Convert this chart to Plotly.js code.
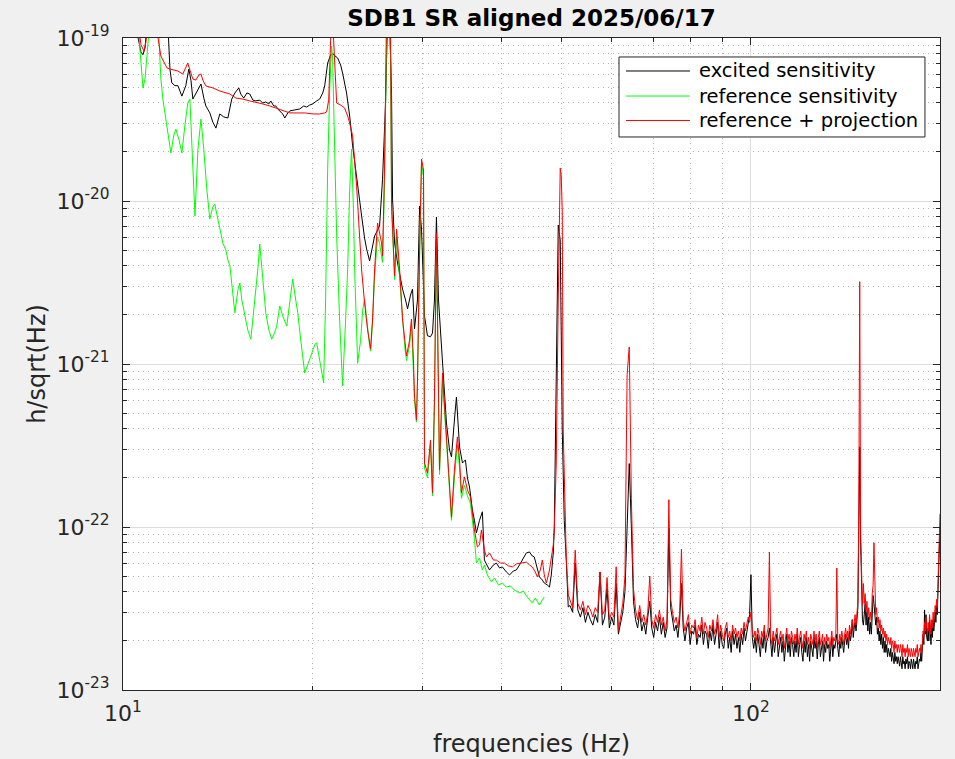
<!DOCTYPE html>
<html><head><meta charset="utf-8">
<script src="https://cdn.plot.ly/plotly-3.0.1.min.js"></script>
<style>html,body{margin:0;padding:0;background:#f0f0f0;}#chart{width:955px;height:759px;}</style>
</head><body><div id="chart"></div>
<script>
// ---------- tick labels ----------
const xTickValues = [10, 100];
const xTickLabels = ['10<sup>1</sup>', '10<sup>2</sup>'];
const yTickValues = [1e-23, 1e-22, 1e-21, 1e-20, 1e-19];
const yTickLabels = ['10<sup>-23</sup>', '10<sup>-22</sup>', '10<sup>-21</sup>', '10<sup>-20</sup>', '10<sup>-19</sup>'];

// ---------- series names ----------
const seriesNames = ['excited sensitivity', 'reference sensitivity', 'reference + projection'];
const seriesColors = ['#000000', '#00ff00', '#ff0000'];

// ---------- shared high-frequency grid (Hz) ----------
const freqHigh = [
51.5,52.0,52.5,53.0,53.5,54.0,54.5,55.0,55.5,56.0,
56.5,57.0,57.5,58.0,58.5,59.0,59.5,60.0,60.5,61.0,
61.5,62.0,62.5,63.0,63.5,64.0,64.5,65.0,65.5,66.0,
66.5,67.0,67.5,68.0,68.5,69.0,69.5,70.0,70.5,71.0,
71.5,72.0,72.5,73.0,73.5,74.0,74.5,75.0,75.5,76.0,
76.5,77.0,77.5,78.0,78.5,79.0,79.5,80.0,80.5,81.0,
81.5,82.0,82.5,83.0,83.5,84.0,84.5,85.0,85.5,86.0,
86.5,87.0,87.5,88.0,88.5,89.0,89.5,90.0,90.5,91.0,
91.5,92.0,92.5,93.0,93.5,94.0,94.5,95.0,95.5,96.0,
96.5,97.0,97.5,98.0,98.5,99.0,99.5,100.0,100.5,101.0,
101.5,102.0,102.5,103.0,103.5,104.0,104.5,105.0,105.5,106.0,
106.5,107.0,107.5,108.0,108.5,109.0,109.5,110.0,110.5,111.0,
111.5,112.0,112.5,113.0,113.5,114.0,114.5,115.0,115.5,116.0,
116.5,117.0,117.5,118.0,118.5,119.0,119.5,120.0,120.5,121.0,
121.5,122.0,122.5,123.0,123.5,124.0,124.5,125.0,125.5,126.0,
126.5,127.0,127.5,128.0,128.5,129.0,129.5,130.0,130.5,131.0,
131.5,132.0,132.5,133.0,133.5,134.0,134.5,135.0,135.5,136.0,
136.5,137.0,137.5,138.0,138.5,139.0,139.5,140.0,140.5,141.0,
141.5,142.0,142.5,143.0,143.5,144.0,144.5,145.0,145.5,146.0,
146.5,147.0,147.5,148.0,148.5,149.0,149.5,150.0,150.5,151.0,
151.5,152.0,152.5,153.0,153.5,154.0,154.5,155.0,155.5,156.0,
156.5,157.0,157.5,158.0,158.5,159.0,159.5,160.0,160.5,161.0,
161.5,162.0,162.5,163.0,163.5,164.0,164.5,165.0,165.5,166.0,
166.5,167.0,167.5,168.0,168.5,169.0,169.5,170.0,170.5,171.0,
171.5,172.0,172.5,173.0,173.5,174.0,174.5,175.0,175.5,176.0,
176.5,177.0,177.5,178.0,178.5,179.0,179.5,180.0,180.5,181.0,
181.5,182.0,182.5,183.0,183.5,184.0,184.5,185.0,185.5,186.0,
186.5,187.0,187.5,188.0,188.5,189.0,189.5,190.0,190.5,191.0,
191.5,192.0,192.5,193.0,193.5,194.0,194.5,195.0,195.5,196.0,
196.5,197.0,197.5,198.0,198.5,199.0,199.5,200.0];

// ---------- excited sensitivity (black) ----------
const freqExcitedLow = [
10.0,10.3,10.57,10.68,10.76,10.84,10.92,11.04,11.45,11.79,
11.88,11.96,12.10,12.23,12.41,12.59,12.73,12.83,12.92,13.06,
13.16,13.31,13.45,13.55,13.75,13.90,14.06,14.16,14.26,14.47,
14.69,14.80,14.90,15.07,15.29,15.40,15.57,15.75,15.92,16.10,
16.27,16.51,16.69,16.88,17.07,17.19,17.38,17.51,17.70,17.96,
18.10,18.30,18.43,18.77,19.12,19.40,19.61,19.83,20.05,20.34,
20.57,20.80,20.95,21.18,21.41,21.57,21.81,21.97,22.21,22.37,
22.70,22.96,23.21,23.55,23.99,24.25,24.43,24.70,24.97,25.16,
25.62,25.90,26.19,26.38,26.58,26.77,26.87,27.07,27.37,27.67,
27.87,28.18,28.39,28.70,28.91,29.12,29.44,29.67,29.88,30.21,
30.54,30.88,31.11,31.33,31.56,31.80,32.15,32.38,32.74,33.11,
33.35,33.71,33.96,34.35,34.72,35.10,35.36,35.63,35.88,36.01,
36.28,36.54,36.96,37.35,37.63,38.04,38.34,38.89,39.32,39.77,
40.19,40.78,41.26,41.84,42.30,42.80,43.24,43.88,44.39,44.85,
45.18,45.68,46.05,46.53,46.87,47.39,47.77,48.09,48.44,48.62,
48.97,49.15,49.33,49.69,50.06,50.43,50.80,51.17];
const excitedLow = [
1.3e-19,1.3e-19,1.0e-19,8.2e-20,7.9e-20,8.7e-20,1.2e-19,1.3e-19,1.3e-19,1.2e-19,
6.4e-20,5.3e-20,5.1e-20,5.1e-20,4.4e-20,5.1e-20,6.45e-20,5.5e-20,4.22e-20,4.53e-20,
4.8e-20,5.22e-20,4.28e-20,3.83e-20,3.47e-20,3.05e-20,2.8e-20,3.14e-20,3.42e-20,3.28e-20,
3.23e-20,3.72e-20,4.22e-20,4.6e-20,4.94e-20,4.53e-20,4.28e-20,4.6e-20,4.53e-20,4.16e-20,
4.11e-20,4.16e-20,3.99e-20,4.05e-20,3.94e-20,4.11e-20,3.83e-20,3.83e-20,3.62e-20,3.42e-20,
3.23e-20,3.47e-20,3.57e-20,3.62e-20,3.67e-20,3.83e-20,3.77e-20,3.88e-20,3.94e-20,4.11e-20,
4.22e-20,4.6e-20,5.08e-20,7.02e-20,7.87e-20,7.98e-20,7.75e-20,7.54e-20,6.83e-20,6.1e-20,
4.6e-20,3.32e-20,2.18e-20,1.36e-20,8.09e-21,5.93e-21,5.08e-21,4.29e-21,5.15e-21,6.1e-21,
7.02e-21,1.36e-20,3.99e-20,1.3e-19,1.3e-19,4.6e-20,1.03e-20,5.52e-21,4.16e-21,3.37e-21,
2.88e-21,2.47e-21,2.18e-21,2.65e-21,2.88e-21,1.64e-21,2.47e-21,9.32e-21,6.73e-21,1.97e-21,
1.49e-21,1.47e-21,1.55e-21,2.47e-21,7.98e-21,2.47e-21,1.22e-21,7.98e-22,4.35e-22,2.97e-22,
2.69e-22,4.53e-22,6.27e-22,3.1e-22,2.47e-22,2.58e-22,2.0e-22,1.76e-22,1.36e-22,1.27e-22,
1.1e-22,9.19e-23,1.1e-22,1.24e-22,6.27e-23,5.77e-23,5.45e-23,5.85e-23,6.01e-23,5.61e-23,
5.69e-23,5.3e-23,5.08e-23,5.37e-23,5.45e-23,5.85e-23,6.27e-23,6.93e-23,7.03e-23,6.64e-23,
6.55e-23,5.61e-23,4.94e-23,4.73e-23,4.53e-23,4.41e-23,4.28e-23,5.08e-23,6.93e-23,1.0e-22,
5.77e-22,2.47e-21,7.12e-21,5.77e-21,3.94e-22,1.1e-22,6.27e-23,3.23e-23];
const excitedHigh = [
3.3e-23,3.0e-23,6.0e-23,3.1e-23,2.8e-23,3.2e-23,2.6e-23,3.0e-23,2.7e-23,2.5e-23,
2.9e-23,2.6e-23,5.3e-23,2.5e-23,2.8e-23,4.2e-23,2.4e-23,2.8e-23,2.5e-23,4.5e-23,
2.2e-23,2.6e-23,3.0e-23,4.0e-23,1.0e-22,2.45e-22,1.0e-22,3.5e-23,2.7e-23,2.4e-23,
3.0e-23,2.3e-23,2.6e-23,2.2e-23,2.8e-23,3.5e-23,2.4e-23,2.1e-23,2.6e-23,2.3e-23,
2.8e-23,2.2e-23,2.6e-23,2.1e-23,2.4e-23,9.8e-23,3.2e-23,2.7e-23,2.3e-23,2.5e-23,
2.1e-23,2.7e-23,4.5e-23,2.4e-23,2.0e-23,2.4e-23,2.6e-23,1.9e-23,2.3e-23,2.2e-23,
2.5e-23,1.9e-23,2.2e-23,2.1e-23,2.5e-23,1.9e-23,2.3e-23,2.2e-23,1.8e-23,2.3e-23,
2.0e-23,2.5e-23,1.9e-23,2.2e-23,2.6e-23,1.8e-23,2.3e-23,1.9e-23,1.8e-23,2.2e-23,
2.4e-23,1.8e-23,2.1e-23,1.7e-23,2.3e-23,1.9e-23,2.2e-23,1.8e-23,2.1e-23,1.7e-23,
2.2e-23,1.9e-23,2.4e-23,2.0e-23,2.3e-23,2.6e-23,2.9e-23,5.1e-23,2.1e-23,1.8e-23,
2.1e-23,1.7e-23,2.2e-23,1.9e-23,1.6e-23,2.1e-23,1.8e-23,2.3e-23,1.7e-23,2.0e-23,
2.1e-23,2.4e-23,1.8e-23,1.6e-23,2.1e-23,1.7e-23,2.0e-23,2.2e-23,1.6e-23,1.9e-23,
2.1e-23,1.7e-23,2.0e-23,1.5e-23,1.9e-23,2.2e-23,1.7e-23,2.0e-23,1.6e-23,2.1e-23,
1.9e-23,1.6e-23,2.0e-23,1.7e-23,2.2e-23,1.6e-23,1.9e-23,2.1e-23,1.7e-23,1.5e-23,
2.0e-23,1.7e-23,2.1e-23,1.6e-23,1.9e-23,1.5e-23,2.0e-23,1.8e-23,1.6e-23,2.1e-23,
1.8e-23,2.0e-23,1.55e-23,1.9e-23,2.1e-23,1.6e-23,1.8e-23,2.0e-23,1.5e-23,1.9e-23,
1.7e-23,2.0e-23,1.8e-23,1.9e-23,1.5e-23,1.8e-23,2.1e-23,1.6e-23,1.9e-23,1.8e-23,
2.0e-23,2.2e-23,1.8e-23,1.6e-23,2.0e-23,1.8e-23,2.1e-23,1.9e-23,1.7e-23,2.0e-23,
2.2e-23,1.9e-23,2.1e-23,1.8e-23,2.3e-23,2.0e-23,2.2e-23,2.7e-23,2.1e-23,2.4e-23,
2.6e-23,2.3e-23,2.9e-23,3.2e-23,1.0e-22,3.1e-22,8.0e-23,3.2e-23,2.7e-23,2.5e-23,
2.9e-23,3.4e-23,2.5e-23,3.0e-23,2.3e-23,2.8e-23,2.2e-23,2.6e-23,2.2e-23,3.5e-23,
3.8e-23,3.4e-23,3.0e-23,2.5e-23,2.8e-23,2.2e-23,2.4e-23,2.0e-23,2.3e-23,1.9e-23,
2.2e-23,1.8e-23,2.1e-23,1.7e-23,2.0e-23,1.7e-23,1.9e-23,1.6e-23,1.8e-23,1.7e-23,
1.6e-23,1.8e-23,1.5e-23,1.7e-23,1.6e-23,1.45e-23,1.7e-23,1.5e-23,1.6e-23,1.45e-23,
1.6e-23,1.5e-23,1.4e-23,1.6e-23,1.5e-23,1.35e-23,1.6e-23,1.45e-23,1.5e-23,1.35e-23,
1.55e-23,1.45e-23,1.6e-23,1.35e-23,1.5e-23,1.45e-23,1.35e-23,1.55e-23,1.45e-23,1.35e-23,
1.55e-23,1.45e-23,1.35e-23,1.5e-23,1.45e-23,1.6e-23,1.35e-23,1.45e-23,1.55e-23,1.5e-23,
1.7e-23,1.5e-23,1.8e-23,2.2e-23,1.9e-23,3.1e-23,2.2e-23,2.9e-23,2.1e-23,2.0e-23,
2.4e-23,2.0e-23,2.7e-23,2.2e-23,1.9e-23,2.5e-23,2.1e-23,2.7e-23,2.3e-23,2.6e-23,
3.0e-23,2.6e-23,3.3e-23,2.9e-23,4.0e-23,6.0e-23,8.5e-23,1.0e-22];

// ---------- reference sensitivity (green) ----------
const freqReference = [
10.0,10.57,10.64,10.76,10.84,10.96,11.04,11.37,11.41,11.49,
11.58,11.70,11.83,11.92,12.05,12.14,12.28,12.41,12.55,12.68,
12.78,12.87,13.02,13.16,13.31,13.45,13.60,13.75,13.90,14.00,
14.16,14.26,14.42,14.58,14.69,14.80,14.90,15.07,15.24,15.35,
15.46,15.63,15.80,15.98,16.16,16.27,16.39,16.51,16.63,16.76,
16.88,17.07,17.25,17.45,17.57,17.77,17.96,18.23,18.43,18.63,
18.84,18.98,19.19,19.47,19.68,19.97,20.20,20.34,20.57,20.87,
21.02,21.18,21.34,21.49,21.57,21.73,21.89,22.13,22.37,22.62,
22.79,22.96,23.12,23.28,23.38,23.55,23.64,23.90,24.08,24.25,
24.52,24.70,24.79,24.97,25.16,25.43,25.62,25.90,26.09,26.28,
26.48,26.67,26.77,26.97,27.07,27.27,27.57,27.87,28.08,28.28,
28.60,28.80,29.01,29.12,29.33,29.44,29.67,29.88,30.10,30.21,
30.54,30.88,31.11,31.33,31.56,31.68,31.92,32.27,32.74,33.11,
33.35,33.71,34.08,34.35,34.59,34.97,35.36,35.75,36.28,36.54,
36.96,37.35,37.63,38.04,38.62,39.03,39.62,40.19,40.78,41.41,
41.99,42.80,43.39,44.04,44.85,45.35,46.05,46.53,46.87];
const referenceSensitivity = [
1.3e-19,1.3e-19,8.56e-20,4.94e-20,5.6e-20,9.32e-20,1.3e-19,1.3e-19,1.0e-19,5.6e-20,
4.16e-20,3.18e-20,2.37e-20,1.97e-20,2.54e-20,2.76e-20,2.37e-20,1.97e-20,2.93e-20,3.99e-20,
4.22e-20,2.37e-20,8.1e-21,2.06e-20,3.18e-20,2.06e-20,1.17e-20,7.75e-21,9.19e-21,9.58e-21,
7.65e-21,6.9e-21,5.52e-21,5.01e-21,4.35e-21,3.99e-21,3.05e-21,2.06e-21,2.84e-21,3.14e-21,
2.47e-21,1.97e-21,1.62e-21,1.42e-21,2.14e-21,2.61e-21,3.77e-21,5.45e-21,4.05e-21,2.84e-21,
2.06e-21,1.62e-21,1.42e-21,1.57e-21,1.71e-21,2.27e-21,1.97e-21,1.71e-21,2.47e-21,3.32e-21,
2.47e-21,2.06e-21,1.4e-21,8.81e-22,9.86e-22,1.17e-21,1.31e-21,1.35e-21,1.06e-21,7.65e-22,
2.47e-21,1.57e-20,4.8e-20,8.9e-20,7.33e-20,2.06e-20,6.1e-21,1.86e-21,7.33e-22,1.86e-21,
3.83e-21,1.17e-20,2.08e-20,8.81e-21,3.83e-21,1.62e-21,1.01e-21,1.4e-21,2.14e-21,2.51e-21,
1.62e-21,1.29e-21,1.2e-21,1.8e-21,3.5e-21,6.0e-21,5.5e-21,4.2e-21,1.2e-20,1.0e-19,
1.2e-19,8.0e-20,9.0e-21,4.5e-21,3.3e-21,6.0e-21,3.5e-21,1.8e-21,1.3e-21,1.05e-21,
1.3e-21,1.8e-21,1.0e-21,6.0e-22,4.4e-22,7.5e-22,4.5e-21,1.7e-20,1.4e-20,2.3e-22,
2.0e-22,3.2e-22,1.55e-22,5.5e-22,5.5e-21,2.2e-21,2.1e-22,8.0e-22,3.3e-22,1.8e-22,
1.1e-22,2.0e-22,3.2e-22,2.3e-22,1.5e-22,1.8e-22,1.55e-22,1.4e-22,8.5e-23,6.01e-23,
6.45e-23,5.45e-23,5.85e-23,5.08e-23,4.6e-23,4.87e-23,4.41e-23,4.53e-23,4.28e-23,4.35e-23,
4.11e-23,3.94e-23,4.05e-23,3.72e-23,3.42e-23,3.67e-23,3.32e-23,3.57e-23,3.72e-23];

// ---------- reference + projection (red) ----------
const freqProjectionLow = [
10.0,10.55,10.68,10.80,10.88,10.96,11.30,11.37,11.49,11.62,
11.75,11.88,12.05,12.23,12.45,12.59,12.68,12.78,12.92,13.06,
13.21,13.31,13.40,13.55,13.75,13.90,14.26,14.80,15.13,15.52,
15.92,16.27,16.69,17.13,17.51,17.96,18.43,18.98,19.47,20.05,
20.57,20.95,21.10,21.26,21.41,21.57,21.65,21.81,21.89,22.21,
22.54,22.79,22.96,23.21,23.38,23.55,23.81,23.99,24.25,24.52,
24.79,24.97,25.16,25.43,25.62,25.81,25.90,26.00,26.09,26.28,
26.48,26.67,26.77,26.97,27.07,27.27,27.57,27.87,28.08,28.28,
28.60,28.80,29.01,29.12,29.33,29.44,29.67,29.88,30.10,30.21,
30.54,30.88,31.11,31.33,31.56,31.68,31.92,32.27,32.74,33.11,
33.35,33.71,34.08,34.35,34.59,34.97,35.36,35.75,36.28,36.67,
36.96,37.22,37.63,37.91,38.34,38.89,39.32,39.92,40.49,41.11,
41.71,42.30,43.08,43.88,44.39,44.85,45.35,45.68,46.20,46.53,
46.87,47.22,47.77,48.09,48.44,48.62,48.97,49.33,49.69,49.87,
50.06,50.24,50.61,50.80,51.17];
const projectionLow = [
1.3e-19,1.3e-19,9.1e-20,8.3e-20,9.5e-20,1.3e-19,1.3e-19,1.0e-19,7.75e-20,7.12e-20,
6.55e-20,6.45e-20,6.36e-20,6.27e-20,6.01e-20,6.55e-20,7.02e-20,6.36e-20,5.6e-20,5.52e-20,
5.93e-20,6.01e-20,5.52e-20,5.08e-20,5.0e-20,4.94e-20,4.73e-20,4.53e-20,4.28e-20,4.22e-20,
4.11e-20,4.05e-20,3.94e-20,3.83e-20,3.72e-20,3.57e-20,3.47e-20,3.47e-20,3.47e-20,3.42e-20,
3.42e-20,3.47e-20,3.52e-20,4.16e-20,9.7e-20,1.3e-19,1.0e-19,5.52e-20,3.99e-20,3.88e-20,
3.72e-20,3.32e-20,3.01e-20,2.51e-20,1.78e-20,1.24e-20,6.1e-21,3.77e-21,2.37e-21,1.62e-21,
1.24e-21,1.86e-21,3.83e-21,7.33e-21,6.36e-21,5.52e-21,4.6e-21,7.65e-21,1.57e-20,1.3e-19,
1.3e-19,1.3e-19,9.72e-21,5.01e-21,3.47e-21,6.73e-21,3.83e-21,1.89e-21,1.4e-21,1.12e-21,
1.4e-21,1.89e-21,1.06e-21,6.36e-22,4.53e-22,7.98e-22,5.0e-21,1.81e-20,1.55e-20,2.47e-22,
2.14e-22,3.42e-22,1.62e-22,6.01e-22,6.36e-21,2.47e-21,2.24e-22,8.81e-22,3.57e-22,1.94e-22,
1.15e-22,2.24e-22,3.57e-22,2.58e-22,1.62e-22,2.03e-22,1.69e-22,1.53e-22,9.59e-23,7.54e-23,
7.76e-23,9.59e-23,7.23e-23,6.55e-23,6.93e-23,6.27e-23,6.27e-23,6.01e-23,6.01e-23,5.77e-23,
5.69e-23,5.93e-23,6.01e-23,6.09e-23,5.85e-23,5.69e-23,5.30e-23,4.94e-23,5.45e-23,6.27e-23,
5.08e-23,4.53e-23,5.45e-23,6.55e-23,7.76e-23,9.59e-23,2.47e-22,2.47e-21,1.59e-20,1.45e-20,
8.56e-21,3.94e-22,1.0e-22,6.55e-23,3.83e-23];
const projectionHigh = [
3.6e-23,3.2e-23,7.2e-23,3.4e-23,3.1e-23,3.5e-23,2.9e-23,3.3e-23,3.1e-23,2.8e-23,
3.2e-23,3.0e-23,5.3e-23,2.9e-23,3.1e-23,4.9e-23,2.7e-23,3.0e-23,2.8e-23,5.7e-23,
2.3e-23,2.9e-23,3.4e-23,5.0e-23,8.6e-22,1.27e-21,1.5e-22,4.2e-23,3.1e-23,2.7e-23,
3.3e-23,2.6e-23,2.9e-23,2.5e-23,3.0e-23,5.0e-23,2.7e-23,2.4e-23,2.9e-23,2.6e-23,
3.1e-23,2.5e-23,2.8e-23,2.3e-23,2.7e-23,1.47e-22,3.6e-23,3.0e-23,2.6e-23,2.8e-23,
2.4e-23,3.0e-23,7.3e-23,2.7e-23,2.3e-23,2.6e-23,2.9e-23,2.2e-23,2.5e-23,2.4e-23,
2.7e-23,2.1e-23,2.5e-23,2.3e-23,2.8e-23,2.2e-23,2.6e-23,2.4e-23,2.1e-23,2.5e-23,
2.3e-23,2.7e-23,2.2e-23,2.4e-23,2.9e-23,2.1e-23,2.5e-23,2.2e-23,2.0e-23,2.4e-23,
2.6e-23,2.1e-23,2.3e-23,2.0e-23,2.5e-23,2.2e-23,2.4e-23,2.1e-23,2.3e-23,2.0e-23,
2.4e-23,2.2e-23,2.6e-23,2.3e-23,2.5e-23,2.8e-23,2.6e-23,3.0e-23,2.3e-23,2.1e-23,
2.3e-23,2.0e-23,2.4e-23,2.2e-23,1.9e-23,2.3e-23,2.1e-23,2.5e-23,2.0e-23,2.2e-23,
2.4e-23,7.0e-23,2.1e-23,1.9e-23,2.3e-23,2.0e-23,2.2e-23,2.4e-23,1.9e-23,2.1e-23,
2.3e-23,2.0e-23,2.2e-23,1.8e-23,2.1e-23,2.4e-23,2.0e-23,2.2e-23,1.9e-23,2.3e-23,
2.1e-23,1.9e-23,2.2e-23,2.0e-23,2.4e-23,1.9e-23,2.1e-23,2.3e-23,2.0e-23,1.8e-23,
2.2e-23,2.0e-23,2.3e-23,1.9e-23,2.1e-23,1.8e-23,2.2e-23,2.0e-23,1.9e-23,2.3e-23,
2.0e-23,2.2e-23,1.8e-23,2.1e-23,2.3e-23,1.9e-23,2.0e-23,2.2e-23,1.8e-23,2.1e-23,
1.9e-23,2.2e-23,2.0e-23,2.1e-23,1.8e-23,2.0e-23,2.3e-23,1.9e-23,2.1e-23,2.0e-23,
2.2e-23,5.6e-23,2.0e-23,1.9e-23,2.2e-23,2.0e-23,2.3e-23,2.1e-23,1.9e-23,2.2e-23,
2.4e-23,2.1e-23,2.3e-23,2.0e-23,2.5e-23,2.2e-23,2.4e-23,2.7e-23,2.3e-23,2.6e-23,
2.9e-23,2.5e-23,3.2e-23,3.5e-23,1.2e-22,3.2e-21,9.3e-23,4.0e-23,3.3e-23,4.5e-23,
3.4e-23,3.9e-23,3.0e-23,3.5e-23,2.8e-23,3.2e-23,2.7e-23,3.0e-23,2.6e-23,3.9e-23,
4.4e-23,8.0e-23,3.6e-23,2.9e-23,3.2e-23,2.6e-23,2.8e-23,2.4e-23,2.7e-23,2.3e-23,
2.5e-23,2.2e-23,2.4e-23,2.1e-23,2.3e-23,2.0e-23,2.2e-23,1.9e-23,2.1e-23,2.0e-23,
1.9e-23,2.1e-23,1.8e-23,2.0e-23,1.9e-23,1.7e-23,2.0e-23,1.8e-23,1.9e-23,1.7e-23,
1.9e-23,1.8e-23,1.7e-23,1.9e-23,1.8e-23,1.6e-23,1.9e-23,1.7e-23,1.8e-23,1.6e-23,
1.8e-23,1.7e-23,1.9e-23,1.6e-23,1.8e-23,1.7e-23,1.6e-23,1.8e-23,1.7e-23,1.6e-23,
1.8e-23,1.7e-23,1.6e-23,1.8e-23,1.7e-23,1.9e-23,1.6e-23,1.7e-23,1.8e-23,1.7e-23,
1.9e-23,1.7e-23,2.0e-23,2.3e-23,2.1e-23,2.6e-23,2.3e-23,2.8e-23,2.4e-23,2.2e-23,
2.6e-23,2.3e-23,2.9e-23,2.5e-23,2.2e-23,2.7e-23,2.4e-23,3.0e-23,2.6e-23,2.9e-23,
3.3e-23,3.0e-23,3.6e-23,3.2e-23,4.5e-23,7.0e-23,1.0e-22,1.2e-22];

const freqExcited = freqExcitedLow.concat(freqHigh);
const excitedSensitivity = excitedLow.concat(excitedHigh);
const freqProjection = freqProjectionLow.concat(freqHigh);
const referenceProjection = projectionLow.concat(projectionHigh);

const traces = [
  {x: freqExcited, y: excitedSensitivity, type: 'scatter', mode: 'lines', showlegend: false,
   name: seriesNames[0], line: {color: seriesColors[0], width: 1}},
  {x: freqReference, y: referenceSensitivity, type: 'scatter', mode: 'lines', showlegend: false,
   name: seriesNames[1], line: {color: seriesColors[1], width: 1}},
  {x: freqProjection, y: referenceProjection, type: 'scatter', mode: 'lines', showlegend: false,
   name: seriesNames[2], line: {color: seriesColors[2], width: 1}}
];

// ---------- legend (MATLAB-style box with long line samples) ----------
const legBox = {x0: 0.6071, x1: 0.9816, y0: 0.8482, y1: 0.9709};
const legRowsY = [0.9494, 0.9110, 0.8735];
const shapes = [{type: 'rect', xref: 'paper', yref: 'paper', layer: 'above',
  x0: legBox.x0, x1: legBox.x1, y0: legBox.y0, y1: legBox.y1,
  line: {color: '#262626', width: 1}, fillcolor: '#ffffff'}];
const annotations = [];
seriesNames.forEach(function (nm, i) {
  shapes.push({type: 'line', xref: 'paper', yref: 'paper', layer: 'above',
    x0: 0.6157, x1: 0.6940, y0: legRowsY[i], y1: legRowsY[i],
    line: {color: seriesColors[i], width: 1}});
  annotations.push({xref: 'paper', yref: 'paper', x: 0.7026, y: legRowsY[i],
    xanchor: 'left', yanchor: 'middle', showarrow: false, text: nm,
    font: {size: 19.5, color: '#000000', family: 'DejaVu Sans, sans-serif'}});
});

const axisStyle = {
  type: 'log', ticks: 'inside', ticklen: 7, tickwidth: 1, tickcolor: '#262626',
  showline: true, linecolor: '#262626', linewidth: 1, mirror: 'ticks',
  showgrid: true, gridcolor: '#dcdcdc', gridwidth: 1, zeroline: false,
  tickmode: 'array',
  minor: {dtick: 'D1', ticks: 'inside', ticklen: 4, tickcolor: '#262626',
          showgrid: true, gridcolor: '#b0b0b0', griddash: '1px,4px', gridwidth: 1}
};

const layout = {
  width: 955, height: 759,
  paper_bgcolor: '#f0f0f0', plot_bgcolor: '#ffffff',
  margin: {l: 123, r: 15, t: 38, b: 69, pad: 0},
  font: {family: 'DejaVu Sans, sans-serif', color: '#262626', size: 16},
  showlegend: false,
  title: {text: '<b>SDB1 SR aligned 2025/06/17</b>', font: {size: 23, color: '#000000'},
          xref: 'paper', x: 0.5, xanchor: 'center', yref: 'container', y: 0.9763, yanchor: 'middle'},
  xaxis: Object.assign({}, axisStyle, {
    range: [1, Math.log10(200)], tickvals: xTickValues, ticktext: xTickLabels,
    tickfont: {size: 22, color: '#262626'}, ticklabelstandoff: 4,
    title: {text: 'frequencies (Hz)', font: {size: 24, color: '#262626'}, standoff: 9}
  }),
  yaxis: Object.assign({}, axisStyle, {
    range: [-23, -19], tickvals: yTickValues, ticktext: yTickLabels,
    tickfont: {size: 22, color: '#262626'}, ticklabelstandoff: 8,
    title: {text: 'h/sqrt(Hz)', font: {size: 24, color: '#262626'}, standoff: 4}
  }),
  shapes: shapes,
  annotations: annotations
};

Plotly.newPlot('chart', traces, layout, {displayModeBar: false, staticPlot: true});
</script>
</body></html>
